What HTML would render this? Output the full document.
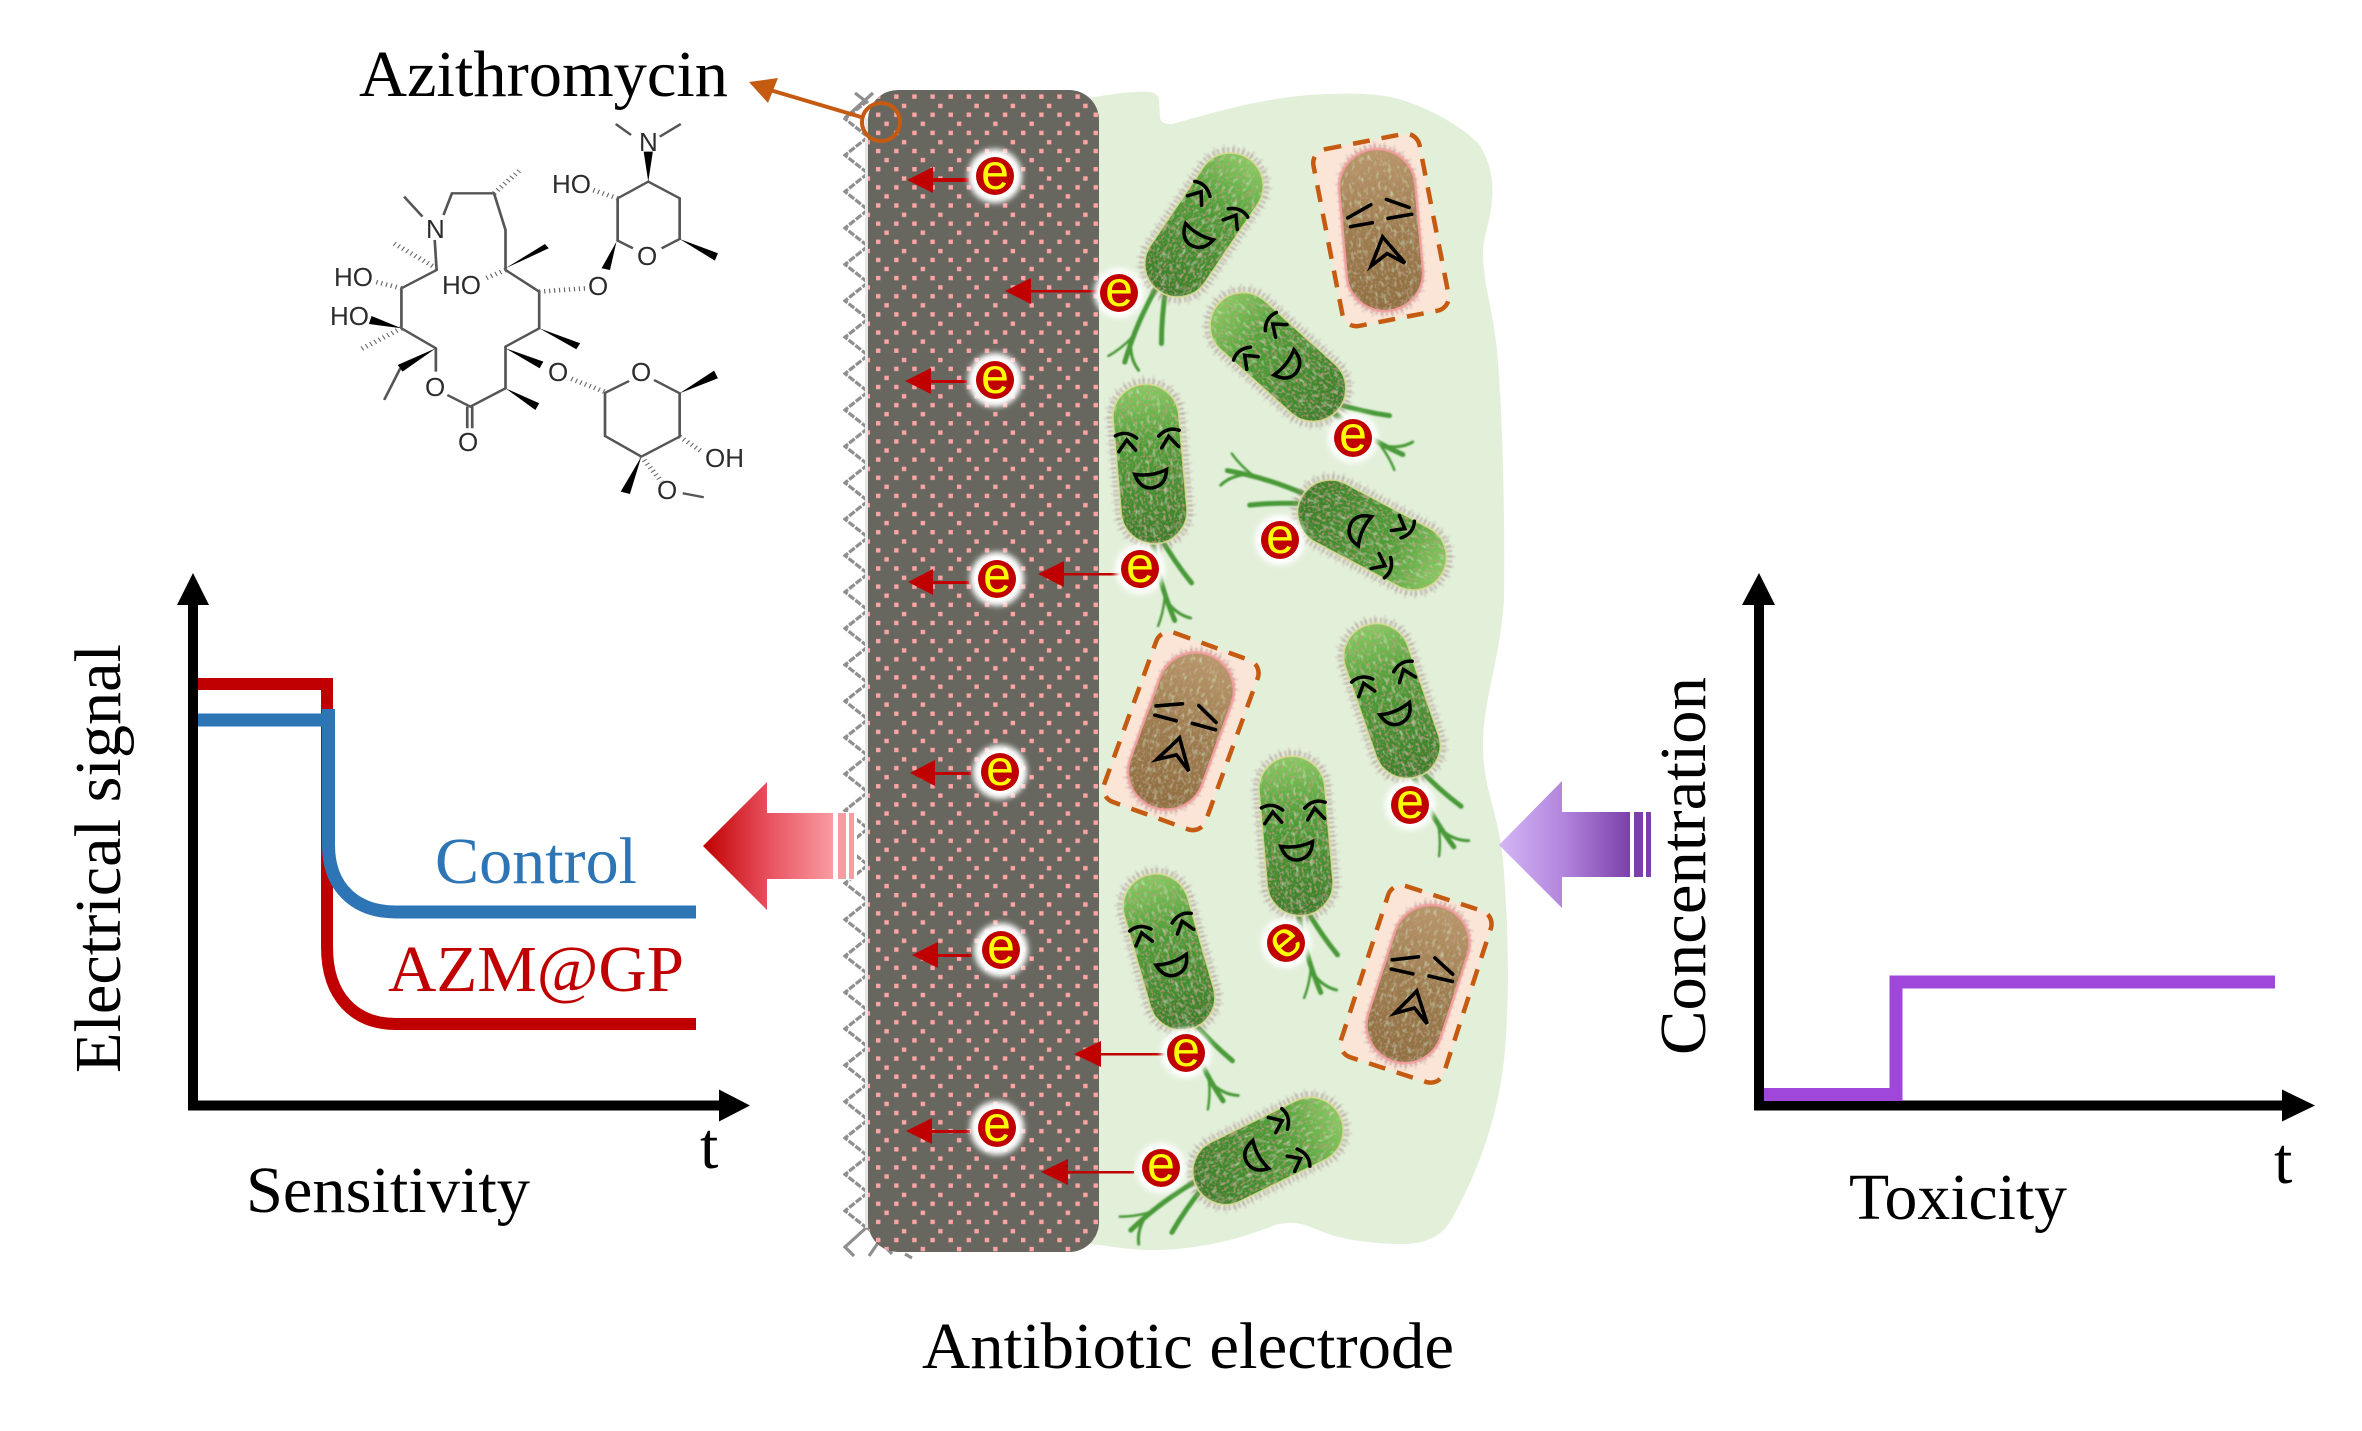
<!DOCTYPE html>
<html><head><meta charset="utf-8"><style>
html,body{margin:0;padding:0;background:#fff}
svg{display:block}
text{font-family:"Liberation Serif",serif;font-size:66px;fill:#000}
.m{font-family:"Liberation Sans",sans-serif;font-size:26px;fill:#2c2c2c}
.e{font-family:"Liberation Sans",sans-serif;font-size:50px;fill:#ff0;text-anchor:middle}
</style></head><body>
<svg width="2362" height="1431" viewBox="0 0 2362 1431" xmlns="http://www.w3.org/2000/svg">
<defs>
<pattern id="dots" patternUnits="userSpaceOnUse" x="876" y="94.4" width="36.26" height="36.3">
<g fill="#ffa4a4"><rect x="0" y="0" width="4.4" height="4.4"/><rect x="18.13" y="0" width="4.4" height="4.4"/><rect x="0" y="18.15" width="4.4" height="4.4"/><rect x="18.13" y="18.15" width="4.4" height="4.4"/><rect x="25.9" y="9.3" width="4.4" height="4.4"/><rect x="8.4" y="27.2" width="4.4" height="4.4"/></g>
</pattern>
<pattern id="zig" patternUnits="userSpaceOnUse" x="843" y="100.6" width="27" height="36.4">
<path d="M25,0 L2,18.2 L25,36.4" fill="none" stroke="#8e8e8e" stroke-width="3.2" stroke-dasharray="7 1.5"/>
</pattern>
<linearGradient id="ra" x1="0" x2="1" y1="0" y2="0"><stop offset="0" stop-color="#c00000"/><stop offset=".5" stop-color="#e8505f"/><stop offset="1" stop-color="#f99ca2"/></linearGradient>
<linearGradient id="pa" x1="0" x2="1" y1="0" y2="0"><stop offset="0" stop-color="#d4b6f6"/><stop offset=".5" stop-color="#b184dc"/><stop offset="1" stop-color="#7b40aa"/></linearGradient>
<linearGradient id="gg" x1="0" x2="0" y1="0" y2="1"><stop offset="0" stop-color="#86cc62"/><stop offset=".38" stop-color="#4c9e36"/><stop offset="1" stop-color="#377f28"/></linearGradient>
<linearGradient id="bg" x1="0" x2="0" y1="0" y2="1"><stop offset="0" stop-color="#b8986a"/><stop offset=".5" stop-color="#9c7d4e"/><stop offset="1" stop-color="#8e6f3e"/></linearGradient>
<filter id="tex" x="-5%" y="-5%" width="110%" height="110%"><feTurbulence type="fractalNoise" baseFrequency=".35" numOctaves="2" seed="4" result="n"/><feColorMatrix in="n" type="matrix" values="0 0 0 0 .55  0 0 0 0 .28  0 0 0 0 .22  0 0 0 3 -1.55" result="s"/><feComposite in="s" in2="SourceAlpha" operator="in" result="c"/><feTurbulence type="fractalNoise" baseFrequency=".25 .16" numOctaves="2" seed="9" result="n2"/><feColorMatrix in="n2" type="matrix" values="0 0 0 0 .68  0 0 0 0 .85  0 0 0 0 .55  0 0 0 1.6 -.85" result="s2"/><feComposite in="s2" in2="SourceAlpha" operator="in" result="c2"/><feMerge><feMergeNode in="SourceGraphic"/><feMergeNode in="c2"/><feMergeNode in="c"/></feMerge></filter>
<filter id="b1" x="-20%" y="-20%" width="140%" height="140%"><feGaussianBlur stdDeviation=".9"/></filter>
<filter id="b3" x="-40%" y="-40%" width="180%" height="180%"><feGaussianBlur stdDeviation="3"/></filter>
<g id="hair"><rect x="-33" y="-80" width="66" height="160" rx="33" fill="none" stroke="#a88a8a" stroke-width="12" stroke-dasharray="2 2.6" opacity=".5" filter="url(#b1)"/><rect x="-33" y="-80" width="66" height="160" rx="33" fill="none" stroke="#a89090" stroke-width="18" stroke-dasharray="1.4 7" opacity=".3" filter="url(#b1)"/></g>
<g id="gb">
<g fill="none" stroke="#489a38" stroke-linecap="round" filter="url(#b1)"><path d="M3,72 Q16,100 31,122" stroke-width="5"/><path d="M-5,72 Q-2,118 11,158" stroke-width="5"/><path d="M3,135 Q12,152 27,157" stroke-width="3"/><path d="M3,135 Q0,150 -6,162" stroke-width="2.5"/></g>
<use href="#hair"/>
<rect x="-33" y="-80" width="66" height="160" rx="33" fill="url(#gg)" filter="url(#tex)"/>
<rect x="-33" y="-80" width="66" height="160" rx="33" fill="none" stroke="#d9dc93" stroke-width="1.8" opacity=".85"/>
<g fill="none" stroke="#000" stroke-width="3.5" stroke-linecap="round"><path d="M-32,-31 Q-21,-36 -11,-27"/><path d="M-30,-15 L-21,-26 -13,-15"/><path d="M32,-31 Q21,-36 11,-27"/><path d="M30,-15 L21,-26 13,-15"/><path d="M-16,9 Q0,13 16,7 Q14,23 0,24 Q-12,24 -16,9Z"/></g>
</g>
<g id="bb">
<use href="#hair"/>
<rect x="-37" y="-80" width="74" height="160" rx="37" fill="none" stroke="#f09c9c" stroke-width="5" filter="url(#b1)"/>
<rect x="-37" y="-80" width="74" height="160" rx="37" fill="url(#bg)" filter="url(#tex)"/>
<g fill="none" stroke="#000" stroke-width="3.6" stroke-linecap="round"><path d="M-32,-15 L-8,-26"/><path d="M-30,-6 L-8,-8"/><path d="M8,-30 L30,-20"/><path d="M8,-11 L32,-13"/><path d="M-13,35 L1,7 L21,35 L4,24 Z"/></g>
</g>
</defs>
<rect width="2362" height="1431" fill="#fff"/>
<path fill="#e2efd9" d="M1090,98 C1110,94 1135,91 1150,92 Q1158,93 1159,100 L1160,118 Q1162,125 1172,124 C1200,117 1250,100 1309,95 C1340,93 1365,93 1385,96 C1420,102 1460,125 1478,143 C1490,160 1494,180 1492,200 C1490,225 1483,235 1483,255 C1484,290 1494,310 1498,360 C1503,430 1505,520 1504,600 C1500,660 1483,700 1483,745 C1483,790 1498,810 1503,860 C1508,920 1510,990 1505,1050 C1500,1110 1480,1170 1450,1222 C1438,1240 1420,1245 1395,1244 C1370,1243 1340,1240 1318,1230 C1300,1222 1290,1221 1275,1225 C1240,1240 1190,1251 1150,1250 C1130,1250 1110,1246 1090,1244 Z"/>
<rect x="843" y="100.6" width="27" height="1128" fill="url(#zig)"/>
<g stroke="#8e8e8e" stroke-width="3.2" fill="none"><path d="M855,93 L868,103"/><path d="M873,93 L845,118"/><path d="M867,1227 L845,1247 L854,1256"/><path d="M867,1227 L892,1254"/><path d="M880,1240 L869,1256"/><path d="M905,1254 L912,1258"/></g>
<rect x="865" y="118" width="3" height="1110" fill="#e6e6e6"/>
<rect x="868" y="90" width="231" height="1162" rx="30" fill="#676760"/>
<rect x="868" y="90" width="231" height="1162" rx="30" fill="url(#dots)"/>
<!-- big arrows -->
<rect x="833" y="812" width="24" height="68" fill="#fff"/>
<path d="M703,846 L767,782 V813 H833 V879 H767 V910 Z" fill="url(#ra)"/>
<rect x="838" y="813" width="8" height="66" fill="#f99ca2"/><rect x="849" y="813" width="5" height="66" fill="#f99ca2"/>
<path d="M1499,845 L1562,781 V812 H1630 V877 H1562 V908 Z" fill="url(#pa)"/>
<rect x="1634" y="812" width="9" height="65" fill="#7b40aa"/><rect x="1646" y="812" width="5" height="65" fill="#7b40aa"/>
<!-- azithromycin pointer -->
<path d="M749,82 L778,78 L768,103 Z" fill="#c55a11"/>
<path d="M770,90 L861,117" stroke="#c55a11" stroke-width="4"/>
<circle cx="881" cy="122" r="19" fill="none" stroke="#c55a11" stroke-width="4"/>
<!-- molecule -->
<g transform="translate(300,20) scale(.3827,.3333)" fill="none" stroke="#555" stroke-width="7">
<path d="M352,660 L357,750 L265,805 L265,925 L355,985 L355,1055"/><path d="M385,1125 L445,1160 L537,1105 L537,980 L625,925 L625,815 L537,750 L537,630 L507,520 L397,520 L375,585"/><path d="M437,1160 V1225 M450,1160 V1225"/><path d="M320,590 L272,530"/>
<path d="M262,1045 L220,1140"/>
<path d="M830,535 L910,485 L992,535 L992,657 L945,685 M827,660 L870,685 M830,535 V660 M865,345 L825,312 M940,350 L995,312"/>
<path d="M795,1120 L860,1083 M925,1080 L992,1120 L992,1250 L892,1310 L797,1248 L797,1120 M1000,1420 L1055,1432"/>
<g fill="#000" stroke="none"><path d="M537,745 L640,672 L650,685Z"/><path d="M625,925 L732,970 L722,988Z"/><path d="M537,985 L636,1025 L626,1045Z"/><path d="M537,1105 L625,1150 L615,1170Z"/><path d="M265,925 L187,888 L180,912Z"/><path d="M355,985 L255,1035 L268,1055Z"/><path d="M827,665 L810,750 L788,745Z"/><path d="M992,657 L1092,700 L1084,722Z"/><path d="M910,485 L898,395 L922,395Z"/><path d="M992,1120 L1082,1052 L1092,1075Z"/><path d="M892,1310 L862,1422 L838,1415Z"/></g>
<g stroke="#666" stroke-width="14" stroke-dasharray="3 10"><path d="M357,745 L245,670"/><path d="M507,520 L575,450"/><path d="M265,925 L155,990"/><path d="M265,805 L195,785"/><path d="M537,750 L485,775"/><path d="M625,815 L745,805"/><path d="M830,535 L765,510"/><path d="M795,1115 L705,1075"/><path d="M992,1250 L1050,1295"/><path d="M892,1310 L945,1385"/></g>
</g>
<g>
<text class="m" x="334" y="286">HO</text><text class="m" x="330" y="325">HO</text><text class="m" x="442" y="294">HO</text><text class="m" x="426" y="238">N</text><text class="m" x="552" y="193">HO</text><text class="m" x="639" y="151">N</text><text class="m" x="637" y="265">O</text><text class="m" x="588" y="295">O</text><text class="m" x="548" y="381">O</text><text class="m" x="631" y="381">O</text><text class="m" x="425" y="396">O</text><text class="m" x="458" y="451">O</text><text class="m" x="705" y="467">OH</text><text class="m" x="657" y="499">O</text>
</g>
<!-- dashed boxes -->
<g fill="#fbe5d6" stroke="#c55a11" stroke-width="4.5" stroke-dasharray="17 12">
<rect x="-54" y="-90" width="108" height="180" rx="14" transform="translate(1381,230) rotate(-11)"/>
<rect x="-54" y="-90" width="108" height="180" rx="14" transform="translate(1181,731) rotate(20)"/>
<rect x="-54" y="-90" width="108" height="180" rx="14" transform="translate(1416,984) rotate(18)"/>
</g>
<!-- bacteria -->
<use href="#bb" transform="translate(1381,230) rotate(-5)"/>
<use href="#bb" transform="translate(1181,731) rotate(20)"/>
<use href="#bb" transform="translate(1418,984) rotate(18)"/>
<use href="#gb" transform="translate(1204,225) rotate(34)"/>
<use href="#gb" transform="translate(1278,357) rotate(-48)"/>
<use href="#gb" transform="translate(1150,464) rotate(-5)"/>
<use href="#gb" transform="translate(1372,535) rotate(118)"/>
<use href="#gb" transform="translate(1392,701) rotate(-19)"/>
<use href="#gb" transform="translate(1296,836) rotate(-5)"/>
<use href="#gb" transform="translate(1169,952) rotate(-16)"/>
<use href="#gb" transform="translate(1268,1151) rotate(64)"/>
<!-- e arrows -->
<g fill="#c00000">
<path d="M907,180 L933,167 V193Z"/><rect x="933" y="178" width="36" height="4"/>
<path d="M1005,291 L1031,278 V304Z"/><rect x="1031" y="290" width="66" height="2.5"/>
<path d="M905,381 L931,368 V394Z"/><rect x="931" y="380" width="36" height="3"/>
<path d="M908,582 L933,569 V595Z"/><rect x="933" y="581" width="36" height="3"/>
<path d="M1038,574 L1064,561 V587Z"/><rect x="1064" y="573" width="60" height="2.5"/>
<path d="M910,773 L935,760 V786Z"/><rect x="935" y="772" width="36" height="3"/>
<path d="M912,955 L938,942 V968Z"/><rect x="938" y="954" width="34" height="3"/>
<path d="M1074,1054 L1101,1041 V1067Z"/><rect x="1101" y="1053" width="65" height="2.5"/>
<path d="M906,1131 L932,1118 V1144Z"/><rect x="932" y="1130" width="38" height="3"/>
<path d="M1041,1172 L1068,1159 V1185Z"/><rect x="1068" y="1171" width="66" height="2.5"/>
</g>
<!-- e markers -->
<g><circle cx="995" cy="176" r="27" fill="#fff" filter="url(#b3)"/><circle cx="995" cy="176" r="19" fill="#c00000"/><text class="e" x="995" y="189">e</text></g>
<g><circle cx="995" cy="380" r="27" fill="#fff" filter="url(#b3)"/><circle cx="995" cy="380" r="19" fill="#c00000"/><text class="e" x="995" y="393">e</text></g>
<g><circle cx="997" cy="579" r="27" fill="#fff" filter="url(#b3)"/><circle cx="997" cy="579" r="19" fill="#c00000"/><text class="e" x="997" y="592">e</text></g>
<g><circle cx="1000" cy="772" r="27" fill="#fff" filter="url(#b3)"/><circle cx="1000" cy="772" r="19" fill="#c00000"/><text class="e" x="1000" y="785">e</text></g>
<g><circle cx="1001" cy="950" r="27" fill="#fff" filter="url(#b3)"/><circle cx="1001" cy="950" r="19" fill="#c00000"/><text class="e" x="1001" y="963">e</text></g>
<g><circle cx="997" cy="1128" r="27" fill="#fff" filter="url(#b3)"/><circle cx="997" cy="1128" r="19" fill="#c00000"/><text class="e" x="997" y="1141">e</text></g>
<g><circle cx="1119" cy="293" r="25" fill="#fff" filter="url(#b3)"/><circle cx="1119" cy="293" r="19" fill="#c00000"/><text class="e" x="1119" y="306">e</text></g>
<g><circle cx="1140" cy="569" r="25" fill="#fff" filter="url(#b3)"/><circle cx="1140" cy="569" r="19" fill="#c00000"/><text class="e" x="1140" y="582">e</text></g>
<g><circle cx="1353" cy="438" r="25" fill="#fff" filter="url(#b3)"/><circle cx="1353" cy="438" r="19" fill="#c00000"/><text class="e" x="1353" y="451">e</text></g>
<g><circle cx="1280" cy="540" r="25" fill="#fff" filter="url(#b3)"/><circle cx="1280" cy="540" r="19" fill="#c00000"/><text class="e" x="1280" y="553">e</text></g>
<g><circle cx="1410" cy="805" r="25" fill="#fff" filter="url(#b3)"/><circle cx="1410" cy="805" r="19" fill="#c00000"/><text class="e" x="1410" y="818">e</text></g>
<g><circle cx="1286" cy="943" r="25" fill="#fff" filter="url(#b3)"/><circle cx="1286" cy="943" r="19" fill="#c00000"/><text class="e" transform="rotate(-40 1286 943)" x="1286" y="956">e</text></g>
<g><circle cx="1186" cy="1053" r="25" fill="#fff" filter="url(#b3)"/><circle cx="1186" cy="1053" r="19" fill="#c00000"/><text class="e" x="1186" y="1066">e</text></g>
<g><circle cx="1161" cy="1168" r="25" fill="#fff" filter="url(#b3)"/><circle cx="1161" cy="1168" r="19" fill="#c00000"/><text class="e" x="1161" y="1181">e</text></g>
<!-- left chart -->
<path d="M196,684 H327 V947 C327,997 355,1024 396,1024 H696" fill="none" stroke="#c00000" stroke-width="12"/>
<path d="M189,720 H328" fill="none" stroke="#2e75b6" stroke-width="13"/>
<path d="M328.5,709 V845 C328.5,887 355,912 396,912 H696" fill="none" stroke="#2e75b6" stroke-width="13"/>
<path d="M193,600 V1105.5 H725" fill="none" stroke="#000" stroke-width="10"/>
<path d="M193,573 L209,605 H177 Z M750,1105.5 L719,1089.5 V1121.5 Z" fill="#000"/>
<!-- right chart -->
<path d="M1759,600 V1105.5 H2290" fill="none" stroke="#000" stroke-width="10"/>
<path d="M1759,573 L1775,605 H1742 Z M2315,1105.5 L2282,1089.5 V1121.5 Z" fill="#000"/>
<path d="M1764,1094.5 H1896 V982 H2275" fill="none" stroke="#9e47d9" stroke-width="13"/>
<!-- labels -->
<text x="359" y="96" textLength="369" lengthAdjust="spacingAndGlyphs">Azithromycin</text>
<text x="922" y="1368" textLength="532" lengthAdjust="spacingAndGlyphs">Antibiotic electrode</text>
<text transform="translate(120,1073) rotate(-90)" textLength="429" lengthAdjust="spacingAndGlyphs">Electrical signal</text>
<text x="435" y="883" textLength="202" lengthAdjust="spacingAndGlyphs" style="fill:#2e75b6">Control</text>
<text x="388" y="991" textLength="296" lengthAdjust="spacingAndGlyphs" style="fill:#c00000">AZM@GP</text>
<text x="246" y="1212" textLength="284" lengthAdjust="spacingAndGlyphs">Sensitivity</text>
<text x="700" y="1168">t</text>
<text transform="translate(1705,1055) rotate(-90)" textLength="378" lengthAdjust="spacingAndGlyphs">Concentration</text>
<text x="1849" y="1219" textLength="218" lengthAdjust="spacingAndGlyphs">Toxicity</text>
<text x="2274" y="1183">t</text>
</svg>
</body></html>
